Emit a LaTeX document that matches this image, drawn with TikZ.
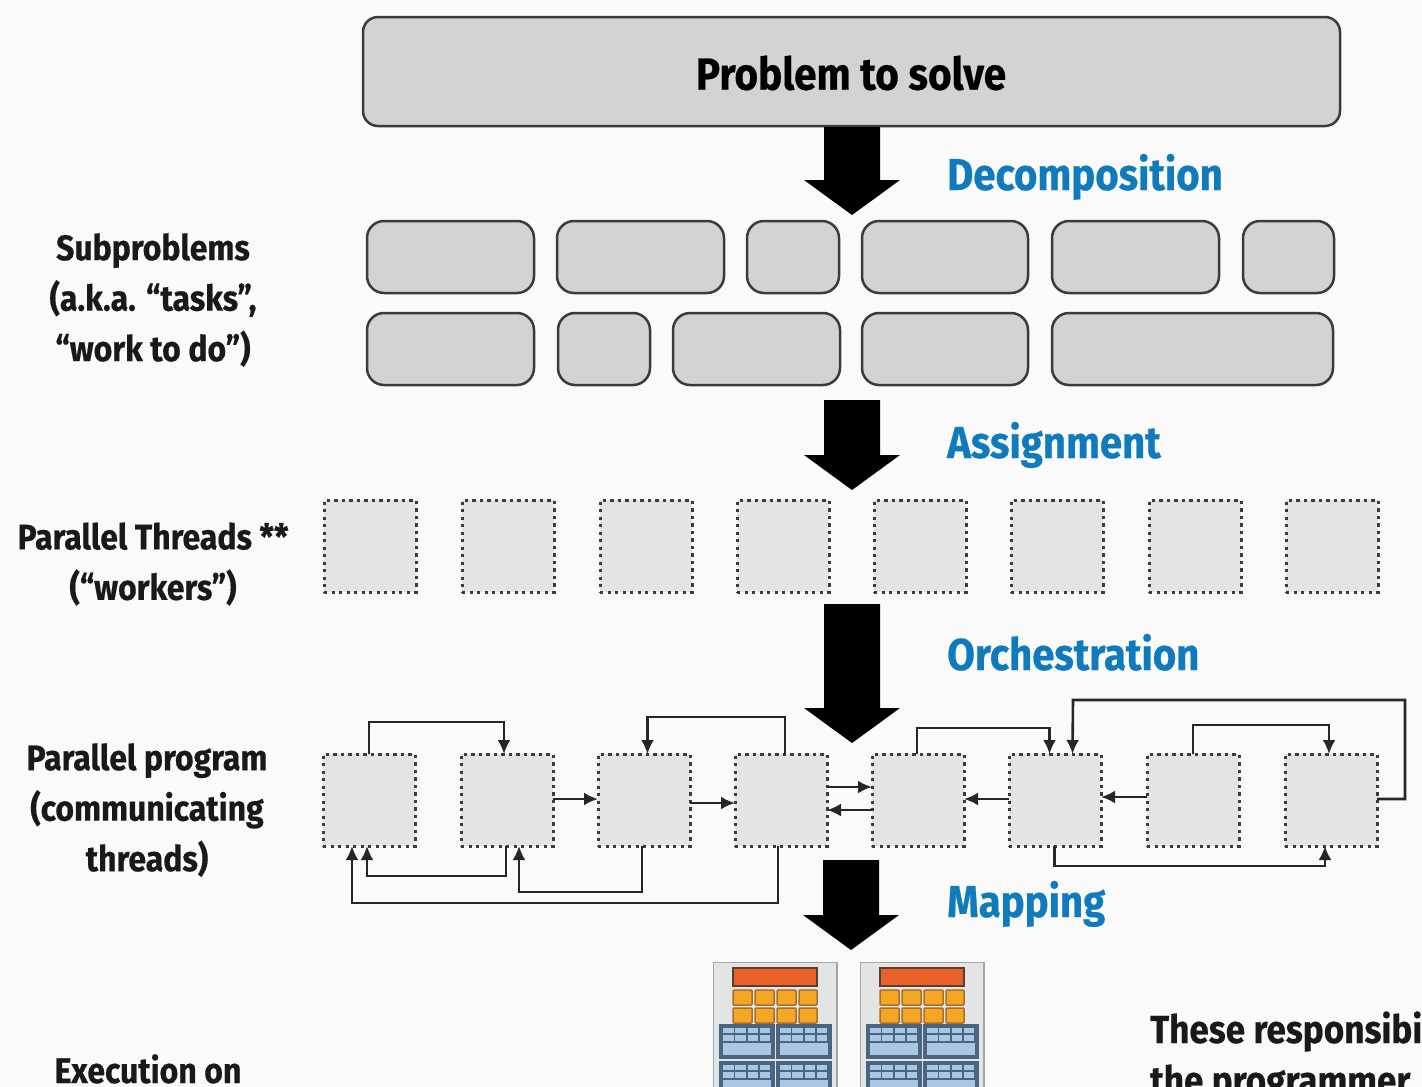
\documentclass[tikz,border=0pt]{standalone}
\usepackage{fontspec}
\setmainfont[FakeStretch=0.9,BoldFeatures={FakeBold=0.5}]{Fira Sans}
\usetikzlibrary{arrows.meta}
\definecolor{bgc}{HTML}{F9FAF9}
\definecolor{boxc}{HTML}{D2D4D3}
\definecolor{linec}{HTML}{3A3C3C}
\definecolor{threadc}{HTML}{E3E4E4}
\definecolor{bluec}{HTML}{0F7BBD}
\definecolor{barc}{HTML}{E8602A}
\definecolor{barl}{HTML}{5A3F30}
\definecolor{cellc}{HTML}{F5A623}
\definecolor{celll}{HTML}{A8702A}
\definecolor{memc}{HTML}{A9C6E2}
\definecolor{meml}{HTML}{4A6580}
\tikzset{
  solidbox/.style={draw=linec,fill=boxc,line width=2.5pt,rounded corners=17pt,inner sep=0pt,outer sep=0pt,anchor=north west},
  worker/.style={draw=linec,fill=threadc,line width=3pt,dash pattern=on 3.4pt off 4.1pt,inner sep=0pt,outer sep=0pt,anchor=north west,minimum width=92pt,minimum height=92pt},
  flow/.style={draw=black!85,line width=2.6pt,-{Latex[length=14pt,width=13pt]}},
  blockarrow/.style={fill=black,draw=none},
  sidelabel/.style={font=\fontsize{35.5}{50.5}\selectfont\bfseries,align=center,text=black!90},
  replabel/.style={font=\fontsize{39}{50.5}\selectfont\bfseries,text=black!90,anchor=base west,inner sep=0pt},
  steplabel/.style={font=\fontsize{44.6}{48}\selectfont\bfseries,text=bluec,anchor=base west,inner sep=0pt},
  chip/.style={fill=threadc,draw=black!35,line width=1.5pt},
  hotbar/.style={fill=barc,draw=barl,line width=1.5pt},
  hotcell/.style={fill=cellc,draw=celll,line width=1.5pt,rounded corners=1pt},
  memblock/.style={fill=meml,draw=meml,line width=1.5pt},
  memcell/.style={fill=memc,draw=none}
}
\newcommand{\bigarrow}[4]{\path[blockarrow] (#1-28,#2) -- (#1+28,#2) -- (#1+28,#3) -- (#1+48,#3) -- (#1,#4) -- (#1-48,#3) -- (#1-28,#3) -- cycle;}
\begin{document}
\begin{tikzpicture}[x=1pt,y=-1pt]
\useasboundingbox (0,0) rectangle (1422,1087);
\clip (0,0) rectangle (1422,1087);
\fill[bgc] (0,0) rectangle (1422,1087);

% top box
\node[solidbox,rounded corners=15pt,minimum width=977pt,minimum height=109pt] (problem) at (363,17) {};
\node[font=\fontsize{45}{50}\selectfont\bfseries,text=black] (ptitle) at (851,73) {Problem to solve};

% big arrows
\bigarrow{852}{127}{180}{215}
\bigarrow{852}{400}{455}{490}
\bigarrow{852}{604}{708}{743}
\bigarrow{851}{860}{915}{950}

% step labels
\node[steplabel] (ldec) at (947,190) {Decomposition};
\node[steplabel] (lass) at (947,458) {Assignment};
\node[steplabel] (lorc) at (947,670) {Orchestration};
\node[steplabel] (lmap) at (947,917) {Mapping};

% subproblems
\foreach \n/\x/\w in {a/367/167,b/557/167,c/747/92,d/862/166,e/1052/167,f/1243/91}
  \node[solidbox,minimum width=\w pt,minimum height=72pt] (s\n) at (\x,221) {};
\foreach \n/\x/\w in {a/367/167,b/558/92,c/673/167,d/862/166,e/1052/281}
  \node[solidbox,minimum width=\w pt,minimum height=72pt] (r\n) at (\x,313) {};

% side labels
\node[sidelabel] (l1) at (153,300) {Subproblems\\(a.k.a. “tasks”,\\“work to do”)};
\node[sidelabel] (l2) at (153,564) {Parallel Threads **\\(“workers”)};
\node[sidelabel] (l3) at (147,810) {Parallel program\\(communicating\\threads)};
\node[sidelabel,anchor=base,inner sep=0pt] (l4) at (148,1083) {Execution on};
\node[replabel] (l5) at (1150,1043) {These responsibi};
\node[replabel] (l6) at (1150,1094) {the programmer};

% threads
\foreach \i/\x in {1/324,2/462,3/600,4/737,5/874,6/1011,7/1149,8/1286}
  \node[worker] (t\i) at (\x,500) {};
% program
\foreach \i/\x in {1/323,2/461,3/598,4/735,5/872,6/1009,7/1147,8/1285}
  \node[worker] (p\i) at (\x,754) {};

% connectors, top
\draw[flow] (p1.north) -- ++(0,-32) -| ([xshift=-3pt]p2.north);
\draw[flow] ([xshift=4pt]p4.north) -- ++(0,-37) -| ([xshift=3.5pt]p3.north);
\draw[flow] ([xshift=-1pt]p5.north) -- ++(0,-26) -| ([xshift=-5.5pt]p6.north);
\draw[flow] ([yshift=1pt]p8.east) -- ++(28,0) |- (1073,700) -- ([xshift=17.5pt]p6.north);
\draw[flow] ([xshift=0pt]p7.north) -- ++(0,-29) -| ([xshift=-2pt]p8.north);
% connectors, horizontal
\draw[flow] ([yshift=1pt]p2.east) -- ([yshift=1pt]p3.west);
\draw[flow] ([yshift=-3pt]p3.east) -- ([yshift=-3pt]p4.west);
\draw[flow] ([yshift=13pt]p4.east) -- ([yshift=13pt]p5.west);
\draw[flow] ([yshift=-10pt]p5.west) -- ([yshift=-10pt]p4.east);
\draw[flow] ([yshift=1pt]p6.west) -- ([yshift=1pt]p5.east);
\draw[flow] ([yshift=3pt]p7.west) -- ([yshift=3pt]p6.east);
% connectors, bottom
\draw[flow] ([xshift=-1pt]p2.south) -- ++(0,30) -| ([xshift=-2pt]p1.south);
\draw[flow] ([xshift=-2pt]p3.south) -- ++(0,46) -| ([xshift=12pt]p2.south);
\draw[flow] ([xshift=-3pt]p4.south) -- ++(0,57) -| ([xshift=-17pt]p1.south);
\draw[flow] ([xshift=-0.5pt]p6.south) -- ++(0,20) -| ([xshift=-6pt]p8.south);

% processors
\foreach \dx in {0,147}{
  \begin{scope}[xshift=\dx pt]
    \path[clip] (712,961) rectangle (838,1087);
    \path[chip] (713.5,962.5) rectangle (837,1100);
    \path[hotbar] (733,968) rectangle (817,986);
    \foreach \x/\w in {733/19,755/19,777/19,799/18}
      \foreach \y in {990,1008}
        \path[hotcell] (\x,\y) rectangle ++(\w,15);
    \foreach \bx in {720,777}
      \foreach \by in {1025,1062}{
        \path[memblock] (\bx,\by) rectangle ++(54,33);
        \foreach \c in {0,1,2,3}
          \foreach \r in {0,1}
            \path[memcell] (\bx+3+\c*12.3,\by+2.5+\r*7.5) rectangle ++(10.5,5.5);
        \path[memcell] (\bx+3,\by+18) rectangle ++(48,12);
      }
  \end{scope}
}
\end{tikzpicture}
\end{document}
